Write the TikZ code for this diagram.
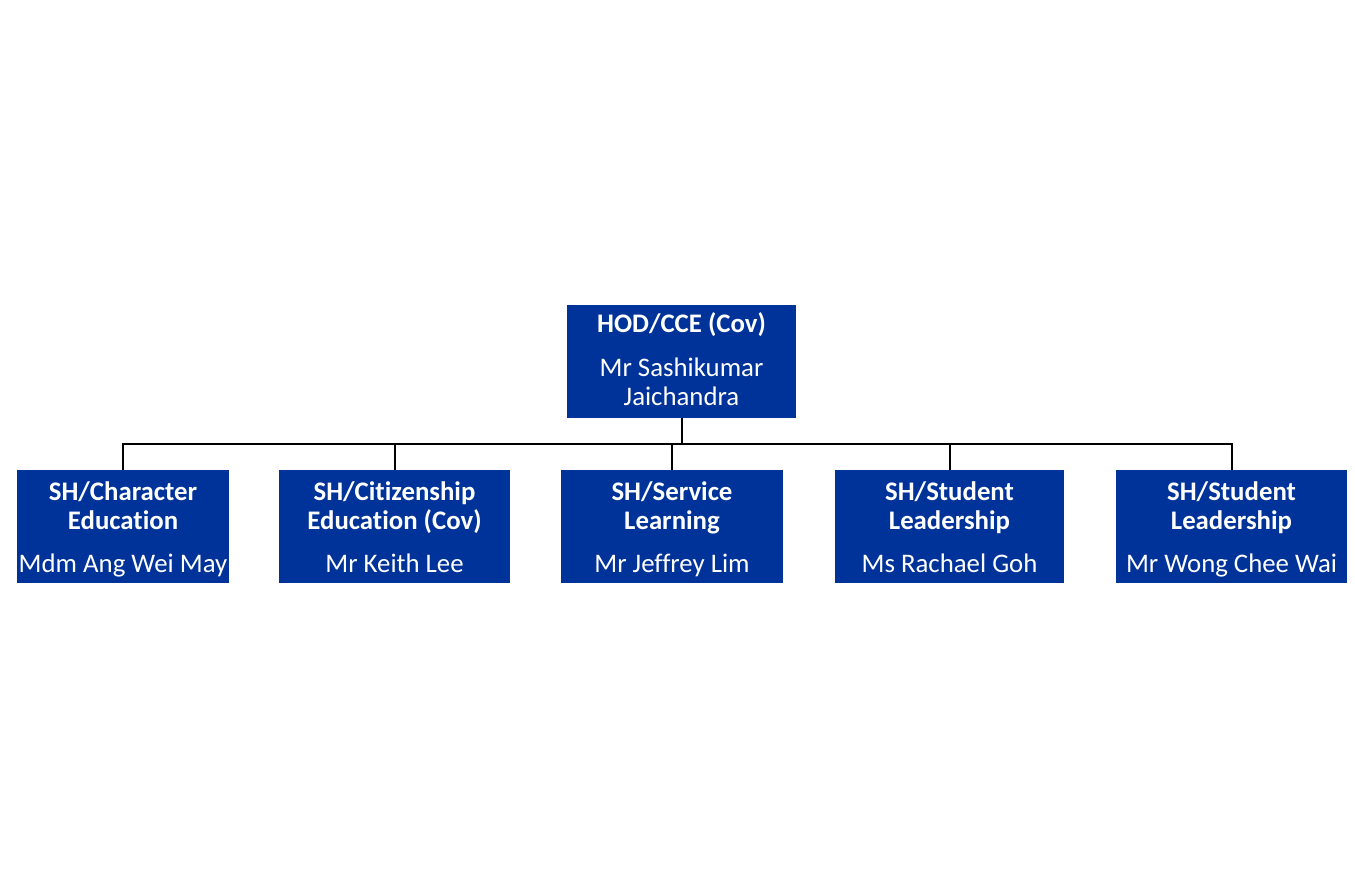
\documentclass[tikz,border=0pt]{standalone}
\usepackage{fontspec}
\setmainfont{Carlito}[Ligatures=NoCommon]
\definecolor{boxblue}{HTML}{003399}
\begin{document}
\begin{tikzpicture}[x=1pt,y=-1pt,
  orgbox/.style={draw=none,fill=boxblue,inner sep=0pt,anchor=north west},
  headtxt/.style={text=white,font=\fontsize{26.8}{30}\selectfont\bfseries,anchor=base,inner sep=0pt},
  persontxt/.style={text=white,font=\fontsize{26.8}{30}\selectfont,anchor=base,inner sep=0pt},
  link/.style={draw=black,line width=1.8pt}]
\useasboundingbox (0,0) rectangle (1355,889);
% boxes
\node[orgbox,minimum width=229pt,minimum height=113pt] (top) at (567,305) {};
\node[orgbox,minimum width=212pt,minimum height=113pt] (b1) at (17,470) {};
\node[orgbox,minimum width=231pt,minimum height=113pt] (b2) at (279,470) {};
\node[orgbox,minimum width=222pt,minimum height=113pt] (b3) at (561,470) {};
\node[orgbox,minimum width=229pt,minimum height=113pt] (b4) at (835,470) {};
\node[orgbox,minimum width=231pt,minimum height=113pt] (b5) at (1116,470) {};
% connectors
\coordinate (bus) at (682,444);
\draw[link] (top.south -| bus) -- (bus);
\draw[link] (bus) -| (b1.north);
\draw[link] (bus) -| (b2.north);
\draw[link] (bus) -| (b3.north);
\draw[link] (bus) -| (b4.north);
\draw[link] (bus) -| (b5.north);
% texts
\node[headtxt] (t1) at (681.5,332) {HOD/CCE (Cov)};
\node[persontxt] (t2) at (681.5,376) {Mr Sashikumar};
\node[persontxt] (t3) at (681.5,405) {Jaichandra};
\node[headtxt] (h1a) at (123,500) {SH/Character};
\node[headtxt] (h1b) at (123,529) {Education};
\node[persontxt] (n1) at (123,572.5) {Mdm Ang Wei May};
\node[headtxt] (h2a) at (394.5,500) {SH/Citizenship};
\node[headtxt] (h2b) at (394.5,529) {Education (Cov)};
\node[persontxt] (n2) at (394.5,572.5) {Mr Keith Lee};
\node[headtxt] (h3a) at (672,500) {SH/Service};
\node[headtxt] (h3b) at (672,529) {Learning};
\node[persontxt] (n3) at (672,572.5) {Mr Jeffrey Lim};
\node[headtxt] (h4a) at (949.5,500) {SH/Student};
\node[headtxt] (h4b) at (949.5,529) {Leadership};
\node[persontxt] (n4) at (949.5,572.5) {Ms Rachael Goh};
\node[headtxt] (h5a) at (1231.5,500) {SH/Student};
\node[headtxt] (h5b) at (1231.5,529) {Leadership};
\node[persontxt] (n5) at (1231.5,572.5) {Mr Wong Chee Wai};
\end{tikzpicture}
\end{document}
